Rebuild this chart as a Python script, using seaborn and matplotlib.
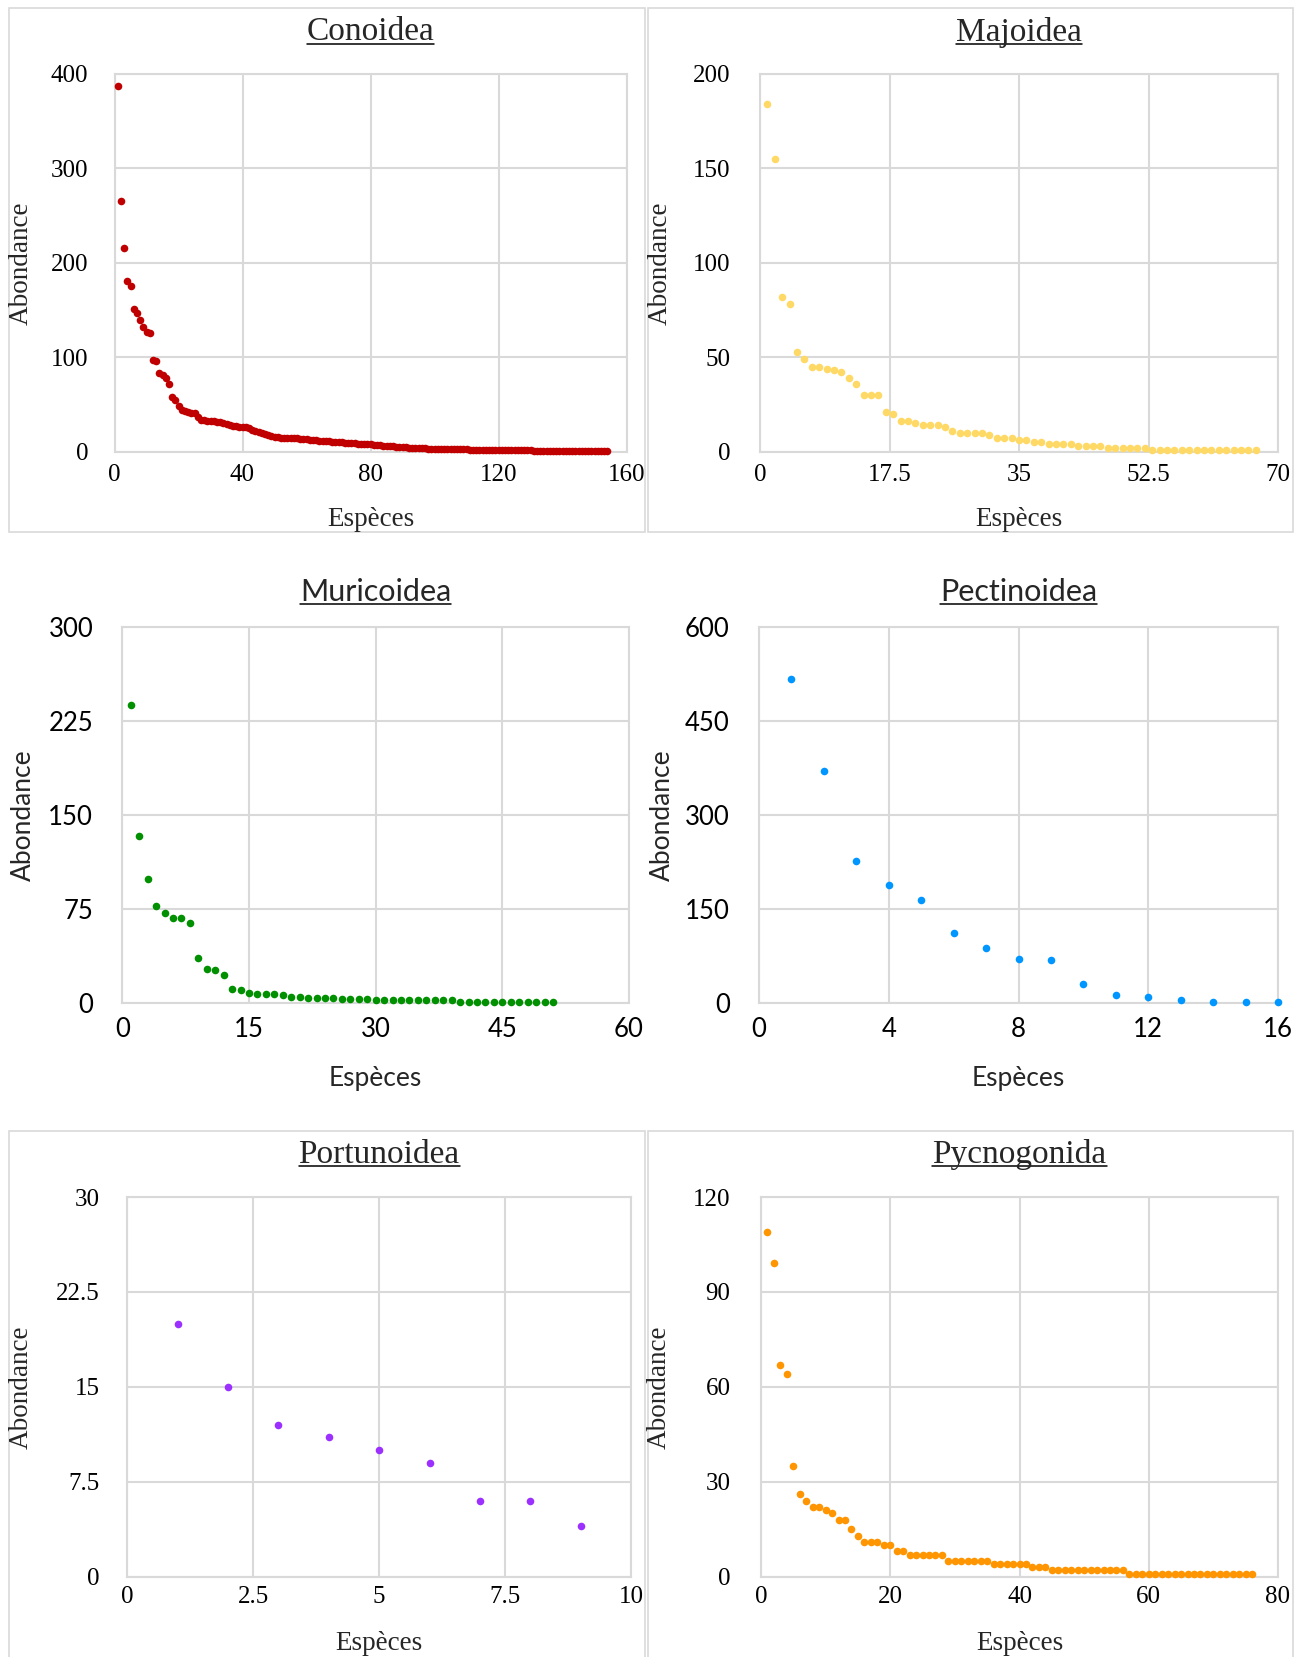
import matplotlib
matplotlib.use("Agg")
import matplotlib.pyplot as plt
import seaborn as sns
import pandas as pd
from matplotlib.lines import Line2D
from matplotlib.patches import Rectangle

# ---------------- data ----------------
conoidea = [387, 265, 216, 181, 176, 151, 147, 140, 132, 127, 126, 97, 96, 83, 81, 78, 72, 58, 55,
            48, 44, 43, 42, 41, 41, 37, 34, 34, 33, 33, 32, 31, 31, 30, 29, 28, 27, 27, 26, 26, 26, 25,
            23, 22, 21, 20, 19, 18, 17, 16,
            16, 15, 15, 15, 14, 14, 14, 13, 13, 13, 12, 12, 12, 11, 11, 11, 11, 10, 10, 10, 10,
            9, 9, 9, 9, 8, 8, 8, 8, 8,
            7, 7, 7, 6, 6, 6, 6, 5, 5, 5, 5, 4, 4, 4, 4, 4, 4,
            3, 3, 3, 3, 3, 3, 3, 3, 3, 3, 3, 3, 3,
            2, 2, 2, 2, 2, 2, 2, 2, 2, 2, 2, 2, 2, 2, 2, 2, 2, 2, 2, 2,
            1, 1, 1, 1, 1, 1, 1, 1, 1, 1, 1, 1, 1, 1, 1, 1, 1, 1, 1, 1, 1, 1, 1, 1]
majoidea = [184, 155, 82, 78, 53, 49, 45, 45, 44, 43, 42, 39, 36, 30, 30, 30, 21, 20, 16, 16,
            15, 14, 14, 14, 13, 11, 10, 10, 10, 10, 9, 7, 7, 7, 6, 6, 5, 5, 4, 4, 4, 4,
            3, 3, 3, 3, 2, 2, 2, 2, 2, 2, 1, 1, 1, 1,
            1, 1, 1, 1, 1, 1, 1, 1, 1, 1, 1]
muricoidea = [238, 133, 99, 77, 72, 68, 68, 64, 36, 27, 26, 22, 11, 10, 8, 7, 7, 7, 6, 5, 5,
              4, 4, 4, 4, 3, 3, 3, 3, 2, 2, 2, 2, 2, 2, 2, 2, 2, 2,
              1, 1, 1, 1, 1, 1, 1, 1, 1, 1, 1, 1]
pectinoidea = [517, 371, 227, 188, 164, 112, 87, 71, 68, 31, 13, 9, 4, 1, 1, 1]
portunoidea = [20, 15, 12, 11, 10, 9, 6, 6, 4]
pycnogonida = [109, 99, 67, 64, 35, 26, 24, 22, 22, 21, 20, 18, 18, 15, 13, 11, 11, 11, 10, 10,
               8, 8, 7, 7, 7, 7, 7, 7, 5, 5, 5, 5, 5, 5, 5, 4, 4, 4, 4, 4, 4, 3, 3, 3,
               2, 2, 2, 2, 2, 2, 2, 2, 2, 2, 2, 2,
               1, 1, 1, 1, 1, 1, 1, 1, 1, 1, 1, 1, 1, 1, 1, 1, 1, 1, 1, 1]

titles = ["Conoidea", "Majoidea", "Muricoidea", "Pectinoidea", "Portunoidea", "Pycnogonida"]
x_ticks = [[0, 40, 80, 120, 160], [0, 17.5, 35, 52.5, 70], [0, 15, 30, 45, 60],
           [0, 4, 8, 12, 16], [0, 2.5, 5, 7.5, 10], [0, 20, 40, 60, 80]]
y_ticks = [[0, 100, 200, 300, 400], [0, 50, 100, 150, 200], [0, 75, 150, 225, 300],
           [0, 150, 300, 450, 600], [0, 7.5, 15, 22.5, 30], [0, 30, 60, 90, 120]]
x_label = "Espèces"
y_label = "Abondance"
colors = ["#C00000", "#FFD966", "#009000", "#0096FF", "#9B30FF", "#FF9500"]

series = [conoidea, majoidea, muricoidea, pectinoidea, portunoidea, pycnogonida]

# ---------------- layout (pixel geometry of the 1310x1657 canvas) ----------------
W, H = 1310, 1657
SERIF = ["Liberation Serif", "DejaVu Serif"]
SANS = ["Lato", "DejaVu Sans"]
layout = [
    # rect (x0, y0, x1, y1), font, title baseline, xlabel y, ylabel x, ytick pad, xtick pad
    dict(rect=(114.5, 74, 626.5, 451.7), font=SERIF, tb=40.5, xl=519.5, yl=21, yp=19, xp=9),
    dict(rect=(760, 74, 1278, 451.7), font=SERIF, tb=40.5, xl=519.5, yl=660, yp=21, xp=9),
    dict(rect=(122.3, 627, 629, 1003), font=SANS, tb=601, xl=1078.6, yl=23, yp=21, xp=10),
    dict(rect=(759, 627, 1278, 1003), font=SANS, tb=601, xl=1078.6, yl=662, yp=21, xp=10),
    dict(rect=(127.3, 1197, 631, 1576.7), font=SERIF, tb=1163, xl=1643, yl=21, yp=20, xp=7),
    dict(rect=(761, 1197, 1278, 1576.7), font=SERIF, tb=1163, xl=1643, yl=659, yp=22, xp=7),
]
boxes = [(8.5, 7.5, 645, 531.5), (648, 7.5, 1293, 531.5),
         (8.5, 1131.5, 645, 1700), (648, 1131.5, 1293, 1700)]

GRID = "#D9D9D9"

sns.set_style("white")
fig = plt.figure(figsize=(W / 100, H / 100), dpi=100)


def fmt(v):
    return f"{v:g}"


title_texts = []
for i, (vals, lay) in enumerate(zip(series, layout)):
    x0, y0, x1, y1 = lay["rect"]
    ax = fig.add_axes([x0 / W, 1 - y1 / H, (x1 - x0) / W, (y1 - y0) / H])
    df = pd.DataFrame({"Espèce": range(1, len(vals) + 1), "Abondance": vals})
    sns.scatterplot(data=df, x="Espèce", y="Abondance", ax=ax, color=colors[i],
                    s=30, linewidth=0, clip_on=False, zorder=3, legend=False)
    ax.set_xlim(x_ticks[i][0], x_ticks[i][-1])
    ax.set_ylim(y_ticks[i][0], y_ticks[i][-1])
    ax.set_xticks(x_ticks[i])
    ax.set_yticks(y_ticks[i])
    is_serif = lay["font"] is SERIF
    tsize = 18 if is_serif else 18.5
    lsize = 19.5 if is_serif else 19
    ax.set_xticklabels([fmt(v) for v in x_ticks[i]], family=lay["font"], size=tsize)
    ax.set_yticklabels([fmt(v) for v in y_ticks[i]], family=lay["font"], size=tsize)
    ax.tick_params(axis="both", length=0, colors="black")
    ax.tick_params(axis="y", pad=lay["yp"])
    ax.tick_params(axis="x", pad=lay["xp"])
    ax.grid(True, color=GRID, linewidth=1.5, zorder=0)
    ax.set_axisbelow(True)
    for sp in ax.spines.values():
        sp.set_visible(True)
        sp.set_color(GRID)
        sp.set_linewidth(1.5)
    ax.set_xlabel(x_label, family=lay["font"], size=lsize, va="center")
    ax.set_ylabel(y_label, family=lay["font"], size=lsize, va="center")
    cx = (x0 + x1) / 2
    cy = (y0 + y1) / 2
    ax.xaxis.set_label_coords(cx / W, 1 - lay["xl"] / H, transform=fig.transFigure)
    ax.yaxis.set_label_coords(lay["yl"] / W, 1 - cy / H, transform=fig.transFigure)
    t = fig.text(cx / W, 1 - lay["tb"] / H, titles[i], ha="center", va="baseline",
                 family=lay["font"], size=24 if is_serif else 22)
    title_texts.append((t, lay["tb"]))

for bx0, by0, bx1, by1 in boxes:
    fig.add_artist(Rectangle((bx0 / W, 1 - by1 / H), (bx1 - bx0) / W, (by1 - by0) / H,
                             transform=fig.transFigure, fill=False, edgecolor=GRID,
                             linewidth=1.2, zorder=0))

fig.canvas.draw()
renderer = fig.canvas.get_renderer()
for t, base in title_texts:
    bb = t.get_window_extent(renderer)
    yline = 1 - (base + 3.0) / H
    fig.add_artist(Line2D([bb.x0 / W, bb.x1 / W], [yline, yline], transform=fig.transFigure,
                          color="black", linewidth=1.1))

fig.savefig("out.png", dpi=100)
